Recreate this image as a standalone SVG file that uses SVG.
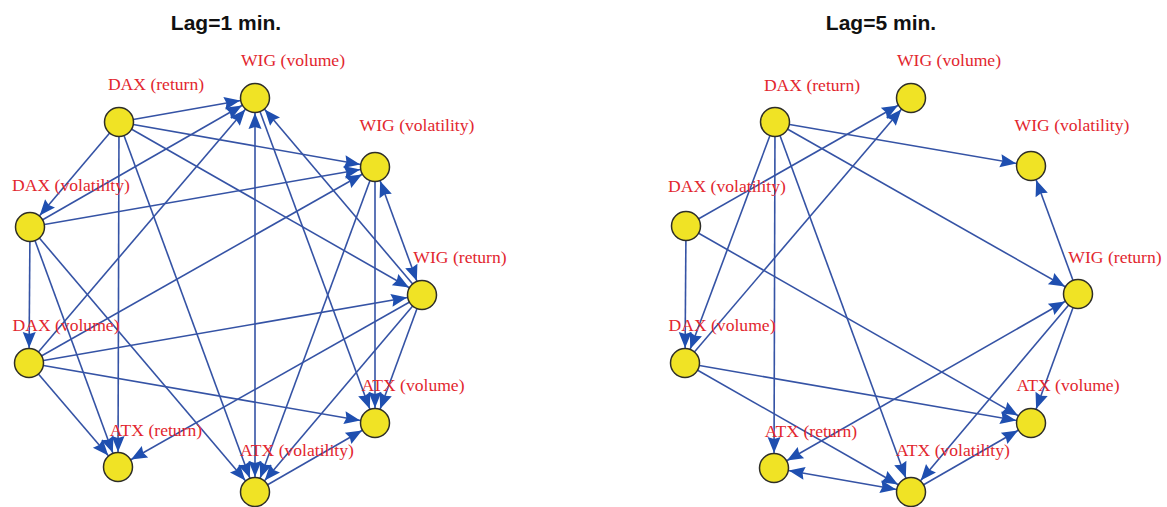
<svg xmlns="http://www.w3.org/2000/svg" width="1167" height="507" viewBox="0 0 1167 507">
<style>
.e{stroke:#3553a5;stroke-width:1.6;fill:none;marker-end:url(#ah)}
.b{marker-start:url(#ah)}
.n{fill:#f0e325;stroke:#2e2e28;stroke-width:1.5}
.l{font-family:"Liberation Serif","Times New Roman",serif;font-size:17.6px;fill:#e2262e;text-anchor:middle}
.t{font-family:"Liberation Sans",Arial,sans-serif;font-size:21px;font-weight:bold;fill:#111;text-anchor:middle}
</style>
<defs>
<marker id="ah" markerUnits="userSpaceOnUse" orient="auto-start-reverse" refX="0" refY="0" markerWidth="1" markerHeight="1" overflow="visible" style="overflow:visible">
<path d="M-15,0 L-31,-6.5 L-29,0 L-31,6.5 Z" fill="#1f4fb0"/>
</marker>
</defs>
<rect width="1167" height="507" fill="#ffffff"/>
<text class="t" x="226" y="30">Lag=1 min.</text>
<text class="t" x="881" y="30">Lag=5 min.</text>
<g id="connectors">
<!-- left graph -->
<line class="e" x1="119" y1="122" x2="255" y2="98"/>
<line class="e" x1="119" y1="122" x2="375" y2="167"/>
<line class="e" x1="119" y1="122" x2="422" y2="295"/>
<line class="e" x1="119" y1="122" x2="255" y2="492"/>
<line class="e" x1="119" y1="122" x2="118" y2="467"/>
<line class="e" x1="119" y1="122" x2="30" y2="227"/>
<line class="e" x1="255" y1="98" x2="375" y2="423"/>
<line class="e b" x1="255" y1="98" x2="255" y2="492"/>
<line class="e" x1="375" y1="167" x2="375" y2="423"/>
<line class="e" x1="375" y1="167" x2="255" y2="492"/>
<line class="e b" x1="375" y1="167" x2="422" y2="295"/>
<line class="e" x1="422" y1="295" x2="255" y2="98"/>
<line class="e" x1="422" y1="295" x2="375" y2="423"/>
<line class="e" x1="422" y1="295" x2="255" y2="492"/>
<line class="e" x1="422" y1="295" x2="118" y2="467"/>
<line class="e" x1="255" y1="492" x2="375" y2="423"/>
<line class="e" x1="29" y1="363" x2="255" y2="98"/>
<line class="e" x1="29" y1="363" x2="375" y2="167"/>
<line class="e" x1="29" y1="363" x2="422" y2="295"/>
<line class="e" x1="29" y1="363" x2="375" y2="423"/>
<line class="e" x1="29" y1="363" x2="118" y2="467"/>
<line class="e" x1="30" y1="227" x2="255" y2="98"/>
<line class="e" x1="30" y1="227" x2="375" y2="167"/>
<line class="e" x1="30" y1="227" x2="29" y2="363"/>
<line class="e" x1="30" y1="227" x2="118" y2="467"/>
<line class="e" x1="30" y1="227" x2="255" y2="492"/>
<!-- right graph -->
<line class="e" x1="686" y1="226" x2="911" y2="98"/>
<line class="e" x1="685" y1="363" x2="911" y2="98"/>
<line class="e" x1="775" y1="122" x2="1031" y2="166"/>
<line class="e" x1="1078" y1="294" x2="1031" y2="166"/>
<line class="e" x1="775" y1="122" x2="1078" y2="294"/>
<line class="e b" x1="774" y1="468" x2="1078" y2="294"/>
<line class="e" x1="1078" y1="294" x2="911" y2="492"/>
<line class="e" x1="1078" y1="294" x2="1031" y2="423"/>
<line class="e" x1="686" y1="226" x2="1031" y2="423"/>
<line class="e" x1="685" y1="363" x2="1031" y2="423"/>
<line class="e" x1="911" y1="492" x2="1031" y2="423"/>
<line class="e" x1="775" y1="122" x2="911" y2="492"/>
<line class="e" x1="685" y1="363" x2="911" y2="492"/>
<line class="e b" x1="774" y1="468" x2="911" y2="492"/>
<line class="e" x1="775" y1="122" x2="774" y2="468"/>
<line class="e" x1="686" y1="226" x2="685" y2="363"/>
<line class="e" x1="775" y1="122" x2="685" y2="363"/>
</g>
<g id="L-dax-return"><circle class="n" cx="119" cy="122" r="14.5"/><text class="l" x="156" y="90">DAX (return)</text></g>
<g id="L-wig-volume"><circle class="n" cx="255" cy="98" r="14.5"/><text class="l" x="293" y="66">WIG (volume)</text></g>
<g id="L-wig-volatility"><circle class="n" cx="375" cy="167" r="14.5"/><text class="l" x="417" y="131">WIG (volatility)</text></g>
<g id="L-wig-return"><circle class="n" cx="422" cy="295" r="14.5"/><text class="l" x="460" y="263">WIG (return)</text></g>
<g id="L-atx-volume"><circle class="n" cx="375" cy="423" r="14.5"/><text class="l" x="413" y="391">ATX (volume)</text></g>
<g id="L-atx-volatility"><circle class="n" cx="255" cy="492" r="14.5"/><text class="l" x="297" y="456">ATX (volatility)</text></g>
<g id="L-atx-return"><circle class="n" cx="118" cy="467" r="14.5"/><text class="l" x="156" y="436">ATX (return)</text></g>
<g id="L-dax-volume"><circle class="n" cx="29" cy="363" r="14.5"/><text class="l" x="66" y="331">DAX (volume)</text></g>
<g id="L-dax-volatility"><circle class="n" cx="30" cy="227" r="14.5"/><text class="l" x="71" y="191">DAX (volatility)</text></g>
<g id="R-dax-return"><circle class="n" cx="775" cy="122" r="14.5"/><text class="l" x="812" y="91">DAX (return)</text></g>
<g id="R-wig-volume"><circle class="n" cx="911" cy="98" r="14.5"/><text class="l" x="949" y="66">WIG (volume)</text></g>
<g id="R-wig-volatility"><circle class="n" cx="1031" cy="166" r="14.5"/><text class="l" x="1072" y="131">WIG (volatility)</text></g>
<g id="R-wig-return"><circle class="n" cx="1078" cy="294" r="14.5"/><text class="l" x="1115" y="263">WIG (return)</text></g>
<g id="R-atx-volume"><circle class="n" cx="1031" cy="423" r="14.5"/><text class="l" x="1068" y="391">ATX (volume)</text></g>
<g id="R-atx-volatility"><circle class="n" cx="911" cy="492" r="14.5"/><text class="l" x="953" y="456">ATX (volatility)</text></g>
<g id="R-atx-return"><circle class="n" cx="774" cy="468" r="14.5"/><text class="l" x="811" y="437">ATX (return)</text></g>
<g id="R-dax-volume"><circle class="n" cx="685" cy="363" r="14.5"/><text class="l" x="722" y="331">DAX (volume)</text></g>
<g id="R-dax-volatility"><circle class="n" cx="686" cy="226" r="14.5"/><text class="l" x="727" y="192">DAX (volatility)</text></g>
</svg>
